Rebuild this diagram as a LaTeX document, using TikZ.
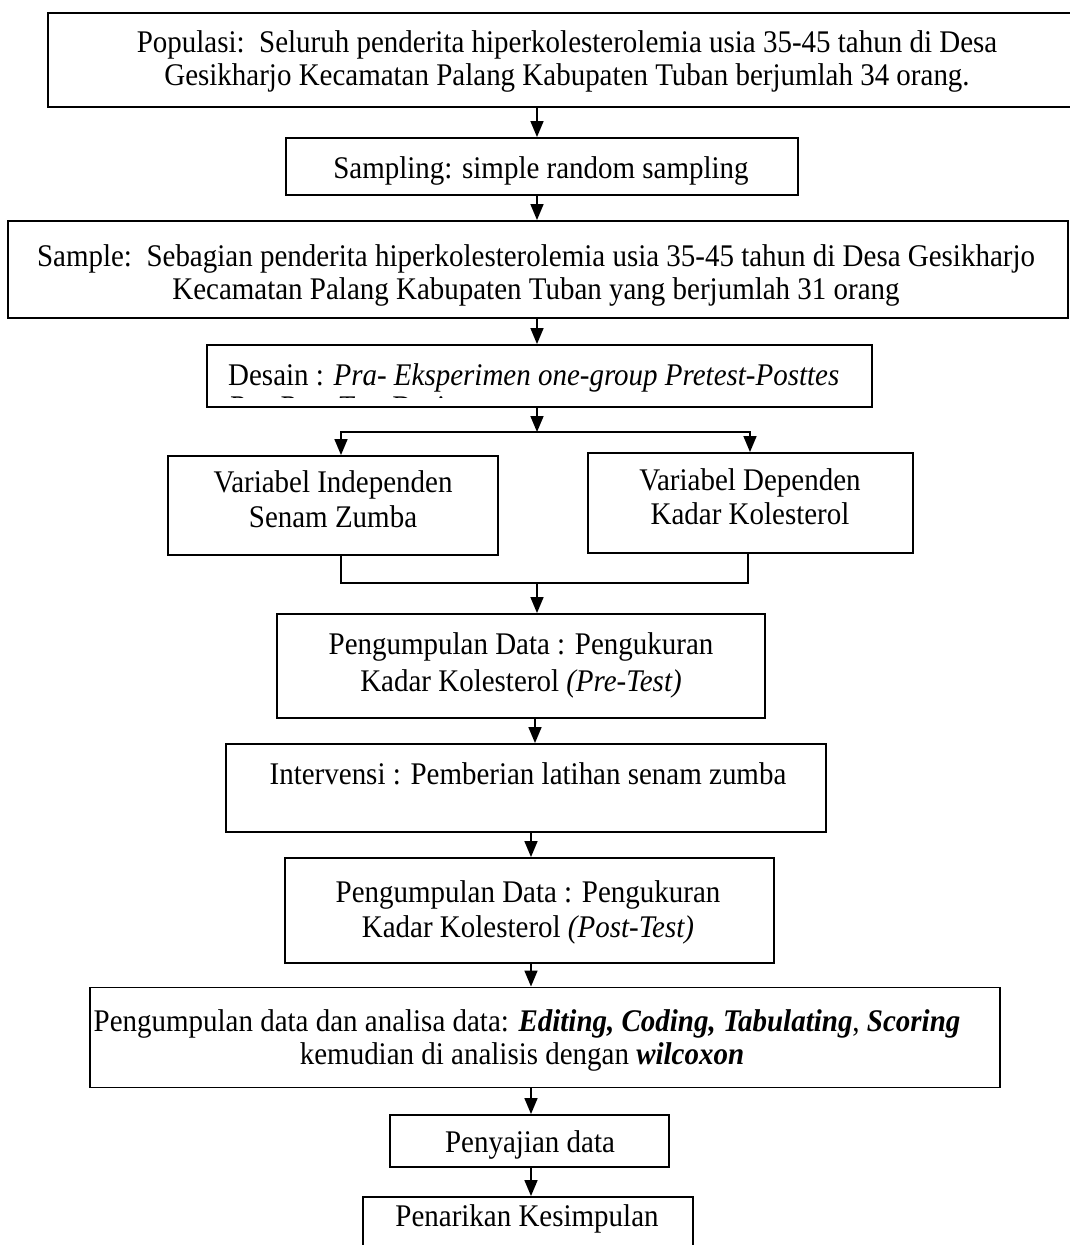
\documentclass[tikz,border=0pt]{standalone}
\usepackage{fontspec}
\setmainfont{Liberation Serif}[FakeStretch=0.92]
\usetikzlibrary{arrows.meta}
\begin{document}
\begin{tikzpicture}[x=1pt,y=-1pt,
  boxnode/.style={draw, line width=1.9pt, inner sep=0pt, rectangle},
  txt/.style={inner sep=0pt, anchor=base, font=\fontsize{31.5}{35}\selectfont},
  arr/.style={line width=1.6pt, -{Triangle[width=13pt,length=16pt]}},
  ln/.style={line width=1.6pt}]
\useasboundingbox (0,0) rectangle (1070,1245);
\clip (0,0) rectangle (1070,1245);
% boxes
\node[boxnode, minimum width=1038pt, minimum height=94pt] (b1) at (567,60) {};
\node[boxnode, minimum width=512pt, minimum height=57pt] (b2) at (542,166.5) {};
\node[boxnode, minimum width=1060pt, minimum height=97pt] (b3) at (538,269.5) {};
\node[boxnode, minimum width=665pt, minimum height=62pt] (b4) at (539.5,376) {};
\node[boxnode, minimum width=330pt, minimum height=99pt] (b5l) at (333,505.5) {};
\node[boxnode, minimum width=325pt, minimum height=100pt] (b5r) at (750.5,503) {};
\node[boxnode, minimum width=488pt, minimum height=104pt] (b6) at (521,666) {};
\node[boxnode, minimum width=600pt, minimum height=88pt] (b7) at (526,788) {};
\node[boxnode, minimum width=489pt, minimum height=105pt] (b8) at (529.5,910.5) {};
\node[boxnode, minimum width=910pt, minimum height=100pt] (b9) at (545,1037.5) {};
\node[boxnode, minimum width=279pt, minimum height=52pt] (b10) at (529.5,1141) {};
\node[boxnode, minimum width=330pt, minimum height=63pt] (b11) at (528,1228.5) {};
% texts
\node[txt] (t1a) at (567,52) {Populasi:\ \ Seluruh penderita hiperkolesterolemia usia 35-45 tahun di Desa};
\node[txt] (t1b) at (567,85) {Gesikharjo Kecamatan Palang Kabupaten Tuban berjumlah 34 orang.};
\node[txt] (t2) at (541,178) {Sampling: simple random sampling};
\node[txt] (t3a) at (536,266) {Sample:\ \ Sebagian penderita hiperkolesterolemia usia 35-45 tahun di Desa Gesikharjo};
\node[txt] (t3b) at (536,299) {Kecamatan Palang Kabupaten Tuban yang berjumlah 31 orang};
\node[txt, anchor=base west] (t4a) at (228,385) {Desain : \textit{Pra- Eksperimen one-group Pretest-Posttes}};
\begin{scope}
\clip (207,345) rectangle (872,397);
\node[txt, anchor=base west] (t4b) at (228,417) {\textit{Pre-Post Test Design}};
\end{scope}
\node[txt] (t5la) at (333,492) {Variabel Independen};
\node[txt] (t5lb) at (333,527) {Senam Zumba};
\node[txt] (t5ra) at (750,490) {Variabel Dependen};
\node[txt] (t5rb) at (750,524) {Kadar Kolesterol};
\node[txt] (t6a) at (521,654) {Pengumpulan Data : Pengukuran};
\node[txt] (t6b) at (521,691) {Kadar Kolesterol \textit{(Pre-Test)}};
\node[txt] (t7) at (528,784) {Intervensi : Pemberian latihan senam zumba};
\node[txt] (t8a) at (528,902) {Pengumpulan Data : Pengukuran};
\node[txt] (t8b) at (528,937) {Kadar Kolesterol \textit{(Post-Test)}};
\node[txt] (t9a) at (527,1031) {Pengumpulan data dan analisa data: \textbf{\textit{Editing, Coding, Tabulating}}, \textbf{\textit{Scoring}}};
\node[txt] (t9b) at (522,1064) {kemudian di analisis dengan \textbf{\textit{wilcoxon}}};
\node[txt] (t10) at (530,1152) {Penyajian data};
\node[txt] (t11) at (527,1226) {Penarikan Kesimpulan};
% connector coordinates
\coordinate (xa) at (537,0);
\coordinate (xb) at (535,0);
\coordinate (xc) at (531,0);
\coordinate (xl) at (341,0);
\coordinate (xr) at (750,0);
\coordinate (xm) at (748,0);
\coordinate (jy) at (0,432);
\coordinate (my) at (0,583);
\coordinate (jc) at (jy -| xa);
\coordinate (mc) at (my -| xa);
% connectors
\draw[arr] (b1.south -| xa) -- (b2.north -| xa);
\draw[arr] (b2.south -| xa) -- (b3.north -| xa);
\draw[arr] (b3.south -| xa) -- (b4.north -| xa);
\draw[arr] (b4.south -| xa) -- (jc);
\draw[arr] (jc) -- (jy -| xl) -- (b5l.north -| xl);
\draw[arr] (jc) -- (jy -| xr) -- (b5r.north -| xr);
\draw[ln] (b5l.south -| xl) -- (my -| xl) -- (my -| xm) -- (b5r.south -| xm);
\draw[arr] (mc) -- (b6.north -| xa);
\draw[arr] (b6.south -| xb) -- (b7.north -| xb);
\draw[arr] (b7.south -| xc) -- (b8.north -| xc);
\draw[arr] (b8.south -| xc) -- (b9.north -| xc);
\draw[arr] (b9.south -| xc) -- (b10.north -| xc);
\draw[arr] (b10.south -| xc) -- (b11.north -| xc);
\end{tikzpicture}
\end{document}
